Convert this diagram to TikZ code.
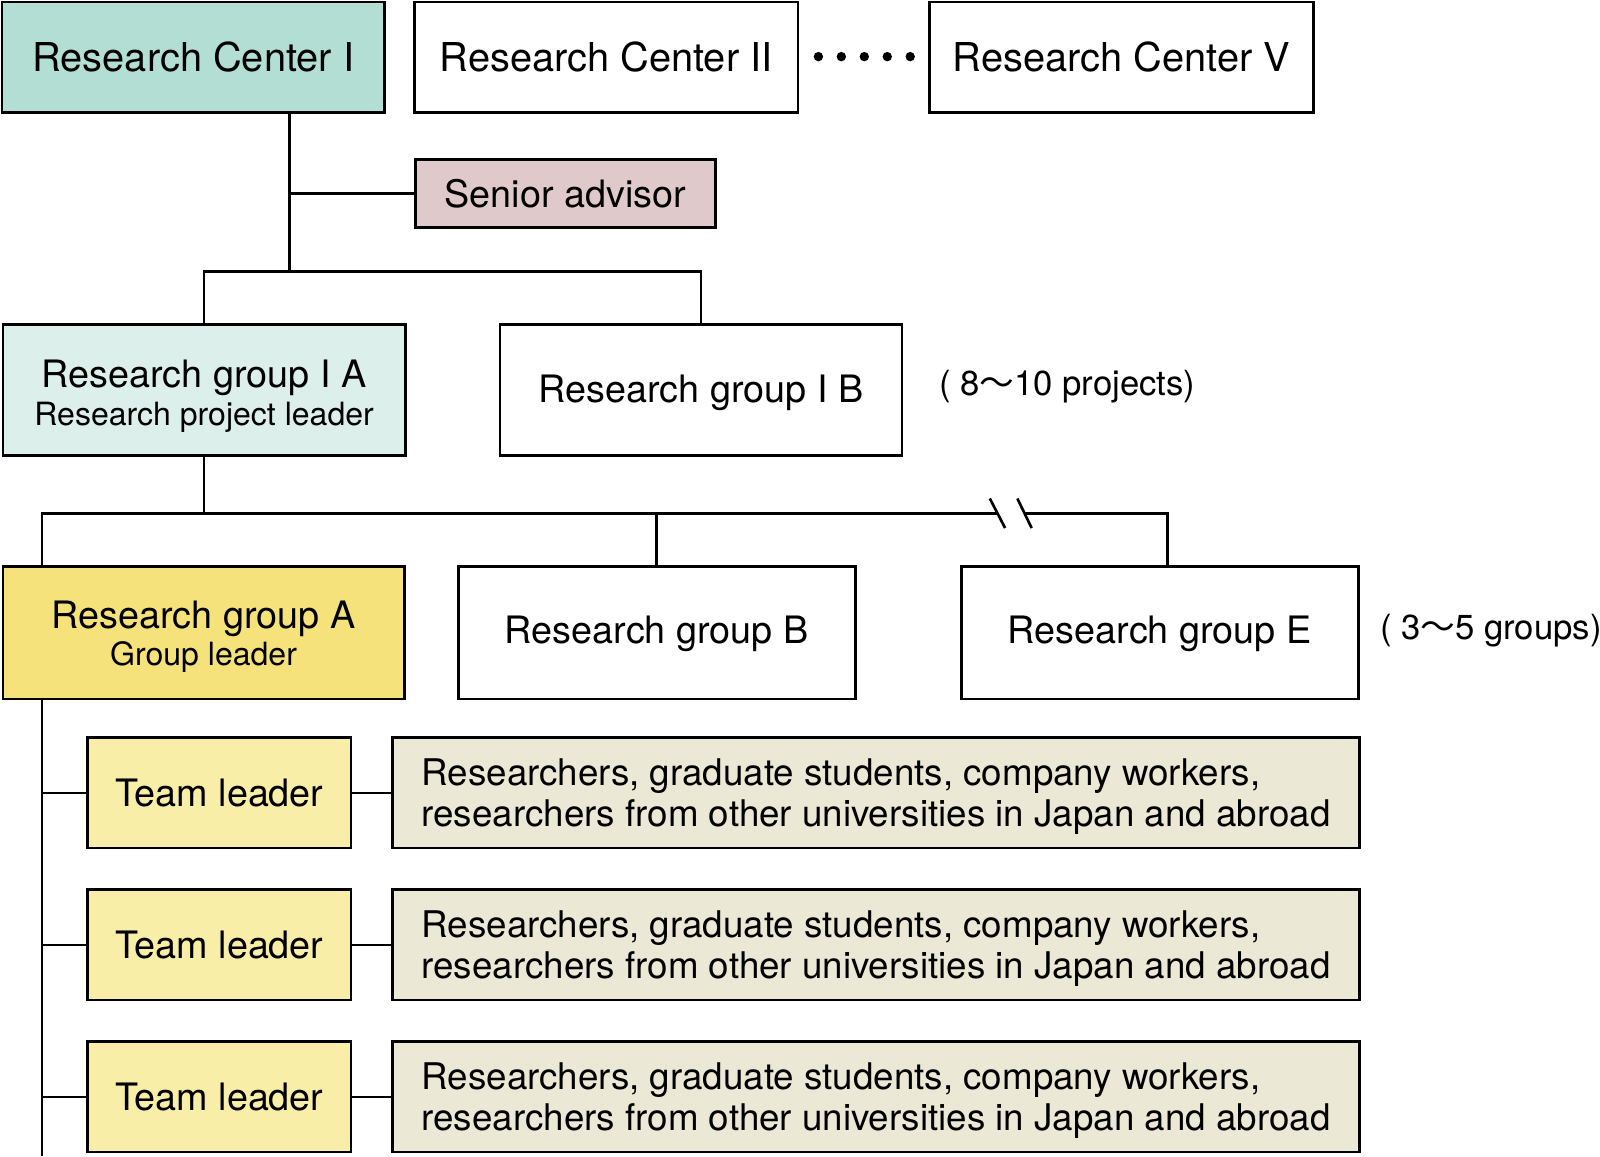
\documentclass[tikz,border=0pt]{standalone}
\usepackage{fontspec}
\usetikzlibrary{calc}
\setmainfont{TeX Gyre Heros}
\newfontfamily\cjk{Noto Sans CJK JP}
\definecolor{rcfill}{HTML}{B3DED4}
\definecolor{rgiafill}{HTML}{DCEFEA}
\definecolor{rgafill}{HTML}{F5E27A}
\definecolor{tlfill}{HTML}{F8EEA8}
\definecolor{rsfill}{HTML}{ECE8D6}
\definecolor{senfill}{HTML}{E0C9CB}
\begin{document}
\begin{tikzpicture}[x=0.5pt,y=-0.5pt,
  box/.style={draw=black,line width=1.4pt,rectangle,inner sep=0pt,align=center,font=\fontsize{18.5}{21}\selectfont},
  centerbox/.style={box,minimum width=188pt,minimum height=54pt,font=\fontsize{19.5}{22}\selectfont},
  groupbox/.style={box,minimum width=197pt,minimum height=64pt},
  subbox/.style={box,minimum width=194.5pt,minimum height=65pt},
  tlbox/.style={box,fill=tlfill,minimum width=129pt,minimum height=54pt},
  rsbox/.style={box,fill=rsfill,minimum width=473.5pt,minimum height=54pt,align=left,font=\fontsize{18}{20}\selectfont},
  conn/.style={line width=1.3pt},
  note/.style={anchor=west,inner sep=0pt,font=\fontsize{17}{20}\selectfont},
  dotmark/.style={fill=black,circle,inner sep=0pt,minimum size=4.6pt}
]
\useasboundingbox (0,0) rectangle (1568,1133);

% top row
\node[centerbox,fill=rcfill,minimum width=187.5pt] (rc1) at (189.5,56) {Research Center I};
\node[centerbox] (rc2) at (594,56) {Research Center II};
\node[centerbox] (rc5) at (1099,56) {Research Center V};
\foreach \i/\xx in {1/802,2/824.5,3/847,4/869.5,5/892}
  \node[dotmark] (d\i) at (\xx,55.5) {};

% senior advisor
\node[box,fill=senfill,minimum width=147pt,minimum height=33.5pt] (sen) at (554,189.5) {Senior advisor};

% research groups I A / I B
\node[groupbox,fill=rgiafill] (rgia) at (200,382) {\rule{0pt}{19.5pt}Research group I A\\[-2.5pt]{\fontsize{15.7}{18}\selectfont Research project leader}};
\node[groupbox] (rgib) at (687,382) {\rule{0pt}{16pt}Research group I B};
\node[note] (n1) at (920,379) {( 8{\cjk ～}10 projects)};

% research groups A / B / E
\node[subbox,fill=rgafill,minimum width=196.5pt] (rga) at (199.5,620) {\rule{0pt}{17.5pt}Research group A\\[-2.5pt]{\fontsize{15.7}{18}\selectfont Group leader}};
\node[subbox] (rgb) at (643.5,620) {\rule{0pt}{15pt}Research group B};
\node[subbox] (rge) at (1136.5,620) {\rule{0pt}{15pt}Research group E};
\node[note] (n2) at (1352,618) {( 3{\cjk ～}5 groups)};

% team leaders and researchers
\foreach \i/\yy in {1/777,2/926,3/1075}{
  \node[tlbox] (tl\i) at (215,\yy) {Team leader};
  \node[rsbox] (rs\i) at (858.5,\yy) {\rule{0pt}{17pt}Researchers, graduate students, company workers,\\researchers from other universities in Japan and abroad};
}

% connector coordinates
\coordinate (t0) at (284,189.5);
\coordinate (t1) at (284,266);
\coordinate (h1l) at (200,266);
\coordinate (h1r) at (687,266);
\coordinate (t2) at (200,503);
\coordinate (h2l) at (41,503);
\coordinate (h2m) at (643.5,503);
\coordinate (h2r) at (1144,503);
\coordinate (brkL) at (977.5,503);
\coordinate (brkR) at (1004,503);
\coordinate (bot) at (41,1133);

% connectors
\draw[conn] (rc1.south -| t1) -- (t1);
\draw[conn] (t0) -- (sen.west);
\draw[conn] (rgia.north) -- (h1l) -- (h1r) -- (rgib.north -| h1r);
\draw[conn] (rgia.south) -- (t2);
\draw[conn] (rga.north -| h2l) -- (h2l) -- (brkL);
\draw[conn] (brkR) -- (h2r) -- (rge.north -| h2r);
\draw[conn] (h2m) -- (rgb.north);
\draw[conn] (rga.south -| bot) -- (bot);
\foreach \i in {1,2,3}{
  \draw[conn] (tl\i.west -| bot) -- (tl\i.west);
  \draw[conn] (tl\i.east) -- (rs\i.west);
}
% break marks
\draw[conn] ($(brkL)+(-7.5,-14.5)$) -- ($(brkL)+(7.5,14.5)$);
\draw[conn] ($(brkR)+(-7,-14.5)$) -- ($(brkR)+(7,14.5)$);
\end{tikzpicture}
\end{document}
